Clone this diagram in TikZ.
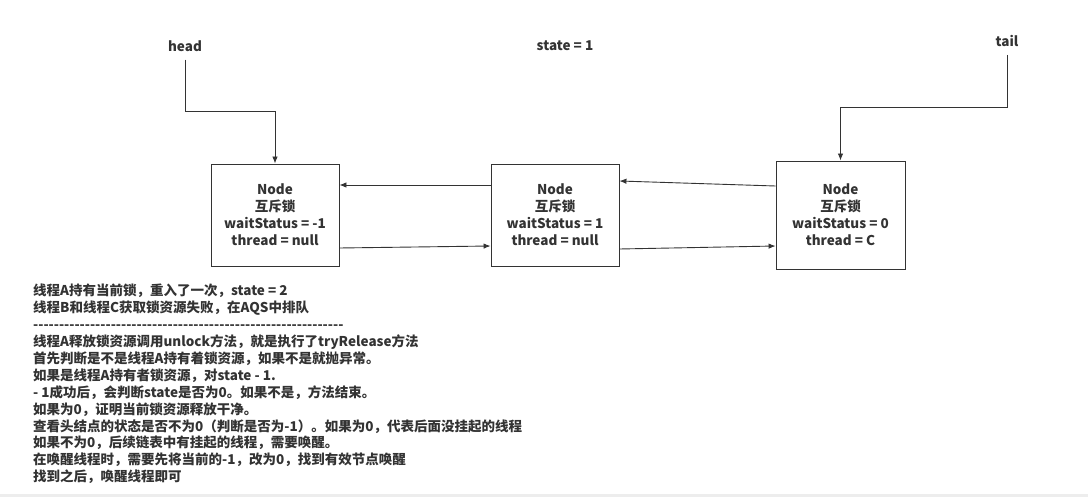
\documentclass[tikz,border=0pt]{standalone}
\usepackage{fontspec}
\setmainfont{Noto Sans CJK SC}
\usetikzlibrary{arrows.meta}
\definecolor{ink}{HTML}{333333}
\newcommand\dashrow{\foreach \i in {1,...,60}{-}}
\begin{document}
\begin{tikzpicture}[x=1pt,y=1pt,
  every node/.style={text=ink,font=\fontsize{13.5}{16.9}\selectfont\bfseries},
  nodebox/.style={draw=ink,line width=0.9pt,align=center,inner sep=0pt},
  link/.style={draw=ink,line width=0.9pt,-{Latex[length=7pt,width=5.5pt]}},
  lbl/.style={inner sep=0pt}]
\useasboundingbox (0,0) rectangle (1088,-497);
\fill[white] (0,0) rectangle (1088,-497);
\fill[black!7] (0,-494) rectangle (1088,-497);

\node[nodebox,minimum width=128pt,minimum height=102pt] (b1) at (275,-215)
  {Node\\互斥锁\\waitStatus = -1\\thread = null};
\node[nodebox,minimum width=128pt,minimum height=102pt] (b2) at (555,-215)
  {Node\\互斥锁\\waitStatus = 1\\thread = null};
\node[nodebox,minimum width=129pt,minimum height=108pt] (b3) at (840.5,-215)
  {Node\\互斥锁\\waitStatus = 0\\thread = C};

\node[lbl] (head) at (185,-46) {head};
\node[lbl] (state) at (565,-46) {state = 1};
\node[lbl] (tail) at (1007,-41) {tail};

\coordinate (h1) at (185,-111);
\coordinate (t1) at (1007,-107);

\draw[link] ([yshift=-8pt]head.south) -- (h1) -| (b1.north);
\draw[link] ([yshift=-8pt]tail.south) -- (t1) -| (b3.north);

\draw[link] ([yshift=30pt]b2.west) -- ([yshift=30pt]b1.east);
\draw[link] ([yshift=-33pt]b1.east) -- ([yshift=-31pt]b2.west);
\draw[link] ([yshift=29pt]b3.west) -- ([yshift=34pt]b2.east);
\draw[link] ([yshift=-34pt]b2.east) -- ([yshift=-31pt]b3.west);

\node[lbl,anchor=north west,align=left] (notes) at (33,-284) {%
线程A持有当前锁，重入了一次，state = 2\\
线程B和线程C获取锁资源失败，在AQS中排队\\
\dashrow\\
线程A释放锁资源调用unlock方法，就是执行了tryRelease方法\\
首先判断是不是线程A持有着锁资源，如果不是就抛异常。\\
如果是线程A持有者锁资源，对state - 1.\\
- 1成功后，会判断state是否为0。如果不是，方法结束。\\
如果为0，证明当前锁资源释放干净。\\
查看头结点的状态是否不为0（判断是否为-1）。如果为0，代表后面没挂起的线程\\
如果不为0，后续链表中有挂起的线程，需要唤醒。\\
在唤醒线程时，需要先将当前的-1，改为0，找到有效节点唤醒\\
找到之后，唤醒线程即可};
\end{tikzpicture}
\end{document}
